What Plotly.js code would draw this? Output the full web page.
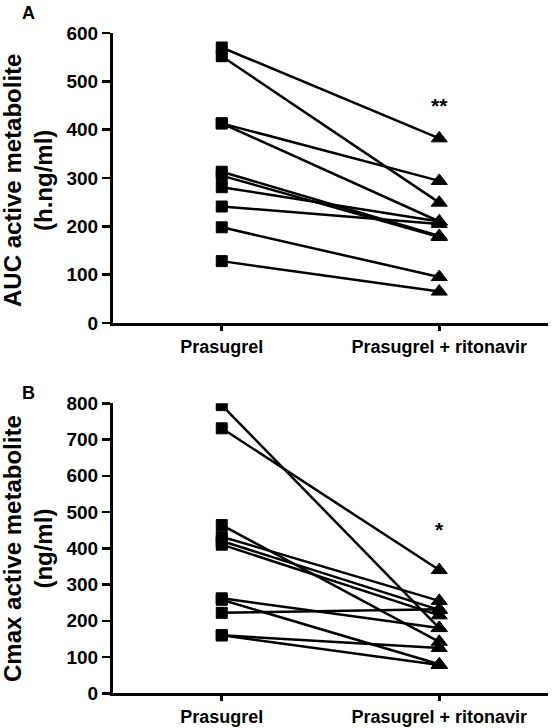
<!DOCTYPE html>
<html>
<head>
<meta charset="utf-8">
<script src="https://cdn.plot.ly/plotly-3.0.1.min.js"></script>
<style>html,body{margin:0;padding:0;background:#fff;}#chart{width:553px;height:728px;}</style>
</head>
<body>
<div id="chart"></div>
<script>
// ---- data ----
const categories = ["Prasugrel", "Prasugrel + ritonavir"];
const aucPrasugrel = [570, 552, 413, 413, 313, 305, 281, 241, 198, 128];
const aucRitonavir = [382, 249, 294, 210, 180, 178, 210, 205, 95, 65];
const cmaxPrasugrel = [795, 731, 464, 432, 420, 410, 262, 258, 222, 160, 160];
const cmaxRitonavir = [180, 340, 142, 255, 230, 215, 180, 80, 232, 125, 78];
const aucTicks = [0, 100, 200, 300, 400, 500, 600];
const cmaxTicks = [0, 100, 200, 300, 400, 500, 600, 700, 800];
const aucSignif = "**";
const cmaxSignif = "*";

const W = 553, H = 728;
const font = {family: "Liberation Sans, Arial, sans-serif", color: "#000", weight: "bold"};

function subjectTraces(pre, post, xa, ya) {
  return pre.map((v, i) => ({
    type: "scatter", mode: "lines+markers",
    x: categories, y: [v, post[i]],
    xaxis: xa, yaxis: ya,
    line: {color: "#000", width: 2.5},
    opacity: 1,
    marker: {color: "#000", opacity: 1, symbol: ["square", "triangle-up"], size: [11, 14],
             line: {color: "#000", width: 1}},
    showlegend: false, hoverinfo: "skip"
  }));
}

const data = [].concat(
  subjectTraces(aucPrasugrel, aucRitonavir, "x", "y"),
  subjectTraces(cmaxPrasugrel, cmaxRitonavir, "x2", "y2")
);

function xax(anchor) {
  return {
    anchor: anchor, type: "category", range: [-0.5, 1.5],
    domain: [113 / W, 548 / W],
    showline: true, linewidth: 3, linecolor: "#000",
    ticks: "outside", ticklen: 5, tickwidth: 3, tickcolor: "#000",
    showgrid: false, zeroline: false,
    tickfont: Object.assign({size: 18}, font), fixedrange: true
  };
}
function yax(anchor, top, bottom, max, ticks) {
  return {
    anchor: anchor, range: [0, max],
    domain: [1 - bottom / H, 1 - top / H],
    tickvals: ticks, ticktext: ticks.map(String),
    showline: true, linewidth: 3, linecolor: "#000",
    ticks: "outside", ticklen: 8, tickwidth: 2.5, tickcolor: "#000",
    showgrid: false, zeroline: false,
    tickfont: Object.assign({size: 19}, font), fixedrange: true
  };
}

const layout = {
  width: W, height: H,
  margin: {l: 0, r: 0, t: 0, b: 0},
  paper_bgcolor: "#fff", plot_bgcolor: "#fff",
  showlegend: false,
  xaxis: xax("y"),
  yaxis: yax("x", 33, 323, 600, aucTicks),
  xaxis2: xax("y2"),
  yaxis2: yax("x2", 403.3, 693.3, 800, cmaxTicks),
  annotations: [
    {xref: "paper", yref: "paper", x: 28 / W, y: 1 - 181 / H, text: "AUC active metabolite<br>(h.ng/ml)",
     textangle: -90, showarrow: false, font: Object.assign({size: 24}, font), xanchor: "center", yanchor: "middle"},
    {xref: "paper", yref: "paper", x: 28 / W, y: 1 - 549 / H, text: "Cmax active metabolite<br>(ng/ml)",
     textangle: -90, showarrow: false, font: Object.assign({size: 24}, font), xanchor: "center", yanchor: "middle"},
    {xref: "paper", yref: "paper", x: 28 / W, y: 1 - 13 / H, text: "A", showarrow: false,
     font: Object.assign({size: 18}, font), xanchor: "center", yanchor: "middle"},
    {xref: "paper", yref: "paper", x: 28 / W, y: 1 - 393 / H, text: "B", showarrow: false,
     font: Object.assign({size: 18}, font), xanchor: "center", yanchor: "middle"},
    {xref: "x", yref: "y", x: categories[1], y: 450, text: aucSignif, showarrow: false,
     font: Object.assign({size: 21}, font)},
    {xref: "x2", yref: "y2", x: categories[1], y: 453, text: cmaxSignif, showarrow: false,
     font: Object.assign({size: 21}, font)}
  ]
};

Plotly.newPlot("chart", data, layout, {staticPlot: true, displayModeBar: false});
</script>
</body>
</html>
